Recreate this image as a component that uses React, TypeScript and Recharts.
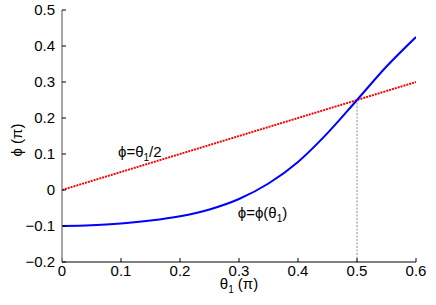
import {
  LineChart,
  Line,
  XAxis,
  YAxis,
  ReferenceLine,
  ReferenceDot,
} from 'recharts';

// phi(theta1) curve
const thetaValues = [0, 0.05, 0.1, 0.15, 0.2, 0.25, 0.3, 0.35, 0.4, 0.45, 0.5, 0.55, 0.6];
const phiValues = [-0.1, -0.098, -0.093, -0.085, -0.073, -0.054, -0.025, 0.018, 0.078, 0.158, 0.25, 0.343, 0.425];

// straight line phi = theta1/2
const lineTheta = [0, 0.6];
const linePhi = [0, 0.3];

const xTicks = [0, 0.1, 0.2, 0.3, 0.4, 0.5, 0.6];
const yTicks = [-0.2, -0.1, 0, 0.1, 0.2, 0.3, 0.4, 0.5];

const curveData = thetaValues.map((t, i) => ({ theta: t, phi: phiValues[i] }));
const lineData = lineTheta.map((t, i) => ({ theta: t, half: linePhi[i] }));

const FONT = '"Liberation Sans", Arial, Helvetica, sans-serif';
const FS = 15;

const fmt = (v: number) => String(v).replace('-', '\u2212');

function XLabel({ viewBox }: any) {
  const cx = viewBox.x + viewBox.width / 2;
  return (
    <text x={cx} y={viewBox.y + 27} textAnchor="middle" fontSize={FS} fontFamily={FONT} fill="#000">
      θ<tspan dy={4} fontSize={10}>1</tspan>
      <tspan dy={-4}> (π)</tspan>
    </text>
  );
}

function YLabel({ viewBox }: any) {
  const cy = viewBox.y + viewBox.height / 2 + 4;
  const x = 22;
  return (
    <text
      x={x}
      y={cy}
      textAnchor="middle"
      fontSize={FS}
      fontFamily={FONT}
      fill="#000"
      transform={`rotate(-90, ${x}, ${cy})`}
    >
      ϕ (π)
    </text>
  );
}

function HalfLabel({ viewBox }: any) {
  return (
    <text x={viewBox.x} y={viewBox.y} fontSize={FS} fontFamily={FONT} fill="#000">
      ϕ=θ<tspan dy={4} fontSize={10}>1</tspan>
      <tspan dy={-4}>/2</tspan>
    </text>
  );
}

function CurveLabel({ viewBox }: any) {
  return (
    <text x={viewBox.x} y={viewBox.y} fontSize={FS} fontFamily={FONT} fill="#000">
      ϕ=ϕ(θ<tspan dy={4} fontSize={10}>1</tspan>
      <tspan dy={-4}>)</tspan>
    </text>
  );
}

export default function App() {
  const tickStyle = { fill: '#000', fontSize: FS, fontFamily: FONT };
  return (
    <div style={{ position: 'absolute', left: 0, top: 0 }}>
      <LineChart width={436} height={305} margin={{ top: 10, right: 20, bottom: 0, left: 0 }}>
        <XAxis
          xAxisId={0}
          dataKey="theta"
          type="number"
          domain={[0, 0.6]}
          ticks={xTicks}
          allowDataOverflow
          height={43}
          tick={tickStyle}
          tickFormatter={fmt}
          tickSize={-4}
          tickMargin={7}
          axisLine={{ stroke: '#000', strokeWidth: 1 }}
          tickLine={{ stroke: '#000' }}
          label={<XLabel />}
        />
        <XAxis
          xAxisId="top"
          orientation="top"
          dataKey="theta"
          type="number"
          domain={[0, 0.6]}
          ticks={xTicks}
          allowDataOverflow
          height={0}
          tickFormatter={() => ''}
          tickSize={-4}
          axisLine={{ stroke: '#888', strokeWidth: 1.5 }}
          tickLine={{ stroke: '#000' }}
        />
        <YAxis
          yAxisId={0}
          type="number"
          domain={[-0.2, 0.5]}
          ticks={yTicks}
          allowDataOverflow
          width={62}
          tick={tickStyle}
          tickFormatter={fmt}
          tickSize={-4}
          tickMargin={11}
          axisLine={{ stroke: '#888', strokeWidth: 1.5 }}
          tickLine={{ stroke: '#000' }}
          label={<YLabel />}
        />
        <YAxis
          yAxisId="right"
          orientation="right"
          type="number"
          domain={[-0.2, 0.5]}
          ticks={yTicks}
          allowDataOverflow
          width={0}
          tickFormatter={() => ''}
          tickSize={-4}
          axisLine={{ stroke: '#000', strokeWidth: 1 }}
          tickLine={{ stroke: '#000' }}
        />
        <ReferenceLine
          xAxisId={0}
          yAxisId={0}
          segment={[{ x: 0.5, y: -0.2 }, { x: 0.5, y: 0.25 }]}
          stroke="#a0a0a0"
          strokeWidth={1.2}
          strokeDasharray="2 1.5"
        />
        <Line
          xAxisId={0}
          yAxisId={0}
          data={lineData}
          dataKey="half"
          type="linear"
          stroke="#ff0000"
          strokeWidth={2}
          strokeDasharray="2 1"
          dot={false}
          isAnimationActive={false}
        />
        <Line
          xAxisId={0}
          yAxisId={0}
          data={curveData}
          dataKey="phi"
          type="monotone"
          stroke="#0000ff"
          strokeWidth={2}
          dot={false}
          isAnimationActive={false}
        />
        <ReferenceDot
          xAxisId={0}
          yAxisId={0}
          x={0.095}
          y={0.092}
          r={0.01}
          fill="none"
          stroke="none"
          label={<HalfLabel />}
        />
        <ReferenceDot
          xAxisId={0}
          yAxisId={0}
          x={0.298}
          y={-0.078}
          r={0.01}
          fill="none"
          stroke="none"
          label={<CurveLabel />}
        />
      </LineChart>
    </div>
  );
}
